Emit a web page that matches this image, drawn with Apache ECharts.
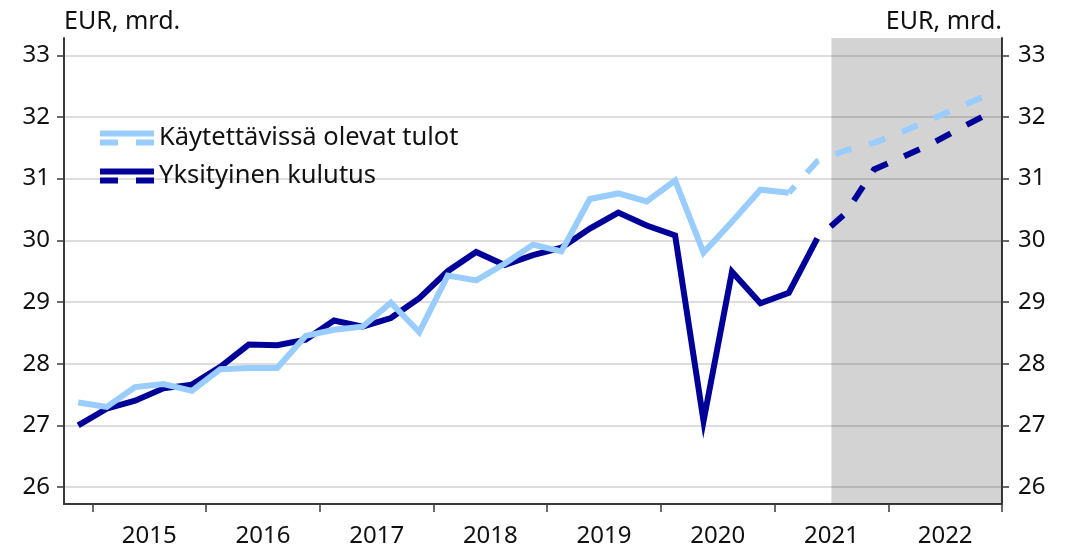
<!DOCTYPE html>
<html><head><meta charset="utf-8">
<script src="https://cdn.jsdelivr.net/npm/echarts@6/dist/echarts.min.js"></script>
<style>html,body{margin:0;padding:0;background:#fff}#c{width:1077px;height:548px}</style>
</head><body><div id="c"></div>
<script>
// Quarterly categories (2014Q4 ... 2022Q4)
const quarters = [
  '2014Q4',
  '2015Q1','2015Q2','2015Q3','2015Q4',
  '2016Q1','2016Q2','2016Q3','2016Q4',
  '2017Q1','2017Q2','2017Q3','2017Q4',
  '2018Q1','2018Q2','2018Q3','2018Q4',
  '2019Q1','2019Q2','2019Q3','2019Q4',
  '2020Q1','2020Q2','2020Q3','2020Q4',
  '2021Q1','2021Q2','2021Q3','2021Q4',
  '2022Q1','2022Q2','2022Q3','2022Q4'
];
// Käytettävissä olevat tulot (EUR mrd.)
const incomeValues = [
  27.37,
  27.30, 27.62, 27.67, 27.56,
  27.91, 27.93, 27.93, 28.45,
  28.55, 28.60, 28.99, 28.51,
  29.43, 29.35, 29.62, 29.93,
  29.82, 30.67, 30.76, 30.63,
  30.97, 29.80, 30.30, 30.82,
  30.77, 31.28, 31.46, 31.58,
  31.76, 31.96, 32.16, 32.36
];
// Yksityinen kulutus (EUR mrd.)
const consumptionValues = [
  27.00,
  27.27, 27.40, 27.60, 27.66,
  27.95, 28.31, 28.30, 28.39,
  28.70, 28.60, 28.74, 29.06,
  29.50, 29.81, 29.60, 29.76,
  29.88, 30.19, 30.45, 30.24,
  30.08, 27.07, 29.49, 28.98,
  29.15, 30.03, 30.44, 31.15,
  31.35, 31.56, 31.81, 32.05
];
const incomeLastActual = '2021Q1';
const consumptionLastActual = '2021Q2';
const forecastPeriodStart = '2021Q3';
const yTickValues = [26, 27, 28, 29, 30, 31, 32, 33];
const yMin = 25.725, yMax = 33.28;
const unitLabel = 'EUR, mrd.';
const incomeName = 'Käytettävissä olevat tulot';
const consumptionName = 'Yksityinen kulutus';

const LIGHT = '#99ccff', DARK = '#000099';
const FONT = 'Noto Sans';
const AX = '#3a3a3a';

function split(values, lastLabel) {
  const k = quarters.indexOf(lastLabel);
  return {
    solid: values.map((v, i) => i <= k ? v : null),
    dashed: values.map((v, i) => i >= k ? v : null)
  };
}
const inc = split(incomeValues, incomeLastActual);
const con = split(consumptionValues, consumptionLastActual);
const shadeStart = quarters.indexOf(forecastPeriodStart);

const chart = echarts.init(document.getElementById('c'), null, {renderer: 'canvas'});

function yAxisCfg(pos) {
  return {
    type: 'value', position: pos, min: yMin, max: yMax,
    name: unitLabel, nameLocation: 'end', nameGap: 4,
    nameTextStyle: {fontFamily: FONT, fontSize: 25, color: '#111', align: pos === 'left' ? 'left' : 'right', verticalAlign: 'bottom'},
    axisLine: {show: true, onZero: false, lineStyle: {color: AX, width: 2}},
    axisTick: {show: true, inside: false, length: 7, customValues: yTickValues, lineStyle: {color: AX, width: 1.5}},
    axisLabel: {show: true, customValues: yTickValues, margin: pos === 'left' ? 14 : 16, fontFamily: FONT, fontSize: 24, color: '#111', formatter: v => String(Math.round(v))},
    splitLine: {show: pos === 'left', lineStyle: {color: '#d2d2d2', width: 1.5}}
  };
}

const lineBase = {type: 'line', xAxisIndex: 0, yAxisIndex: 0, symbol: 'none', showSymbol: false, connectNulls: false, animation: false};
const ICON = 'path://M0,0L54,0L54,6L0,6Z M0,9L18,9L18,15L0,15Z M36,9L54,9L54,15L36,15Z';

chart.setOption({
  animation: false,
  grid: {left: 64, right: 75, top: 38, bottom: 42, containLabel: false},
  xAxis: [{
    type: 'category', data: quarters, boundaryGap: true,
    axisLine: {show: true, onZero: false, lineStyle: {color: AX, width: 2}},
    axisTick: {show: true, length: 8, interval: (i) => i % 4 === 1, lineStyle: {color: AX, width: 1.5}},
    axisLabel: {
      interval: (i) => i % 4 === 2,
      formatter: (v) => v.slice(0, 4),
      fontFamily: FONT, fontSize: 24, color: '#111', margin: 20,
      padding: [0, 0, 0, 28.4]
    },
    splitLine: {show: false}
  }, {
    type: 'value', min: 0, max: quarters.length, show: false
  }],
  yAxis: [yAxisCfg('left'), yAxisCfg('right')],
  legend: {
    orient: 'vertical', left: 95, top: 120, itemWidth: 54, itemHeight: 15, itemGap: 12,
    textStyle: {fontFamily: FONT, fontSize: 25.5, color: '#111'},
    itemStyle: {borderWidth: 0},
    data: [
      {name: incomeName, icon: ICON},
      {name: consumptionName, icon: ICON}
    ]
  },
  series: [
    {
      type: 'line', name: 'shade', xAxisIndex: 1, yAxisIndex: 0, data: [], symbol: 'none', silent: true,
      markArea: {silent: true, itemStyle: {color: 'rgba(0,0,0,0.172)'}, data: [[{xAxis: shadeStart}, {xAxis: quarters.length}]]}
    },
    Object.assign({}, lineBase, {name: consumptionName, data: con.solid, color: DARK, itemStyle: {color: DARK},
      lineStyle: {color: DARK, width: 6, join: 'miter', cap: 'butt'}}),
    Object.assign({}, lineBase, {name: consumptionName, data: con.dashed, color: DARK, itemStyle: {color: DARK},
      lineStyle: {color: DARK, width: 6, type: [17, 18], dashOffset: 17, join: 'miter', cap: 'butt'}}),
    Object.assign({}, lineBase, {name: incomeName, data: inc.solid, color: LIGHT, itemStyle: {color: LIGHT},
      lineStyle: {color: LIGHT, width: 6, join: 'miter', cap: 'butt'}}),
    Object.assign({}, lineBase, {name: incomeName, data: inc.dashed, color: LIGHT, itemStyle: {color: LIGHT},
      lineStyle: {color: LIGHT, width: 6, type: [17, 18], dashOffset: 8, join: 'miter', cap: 'butt'}})
  ]
});
</script></body></html>
